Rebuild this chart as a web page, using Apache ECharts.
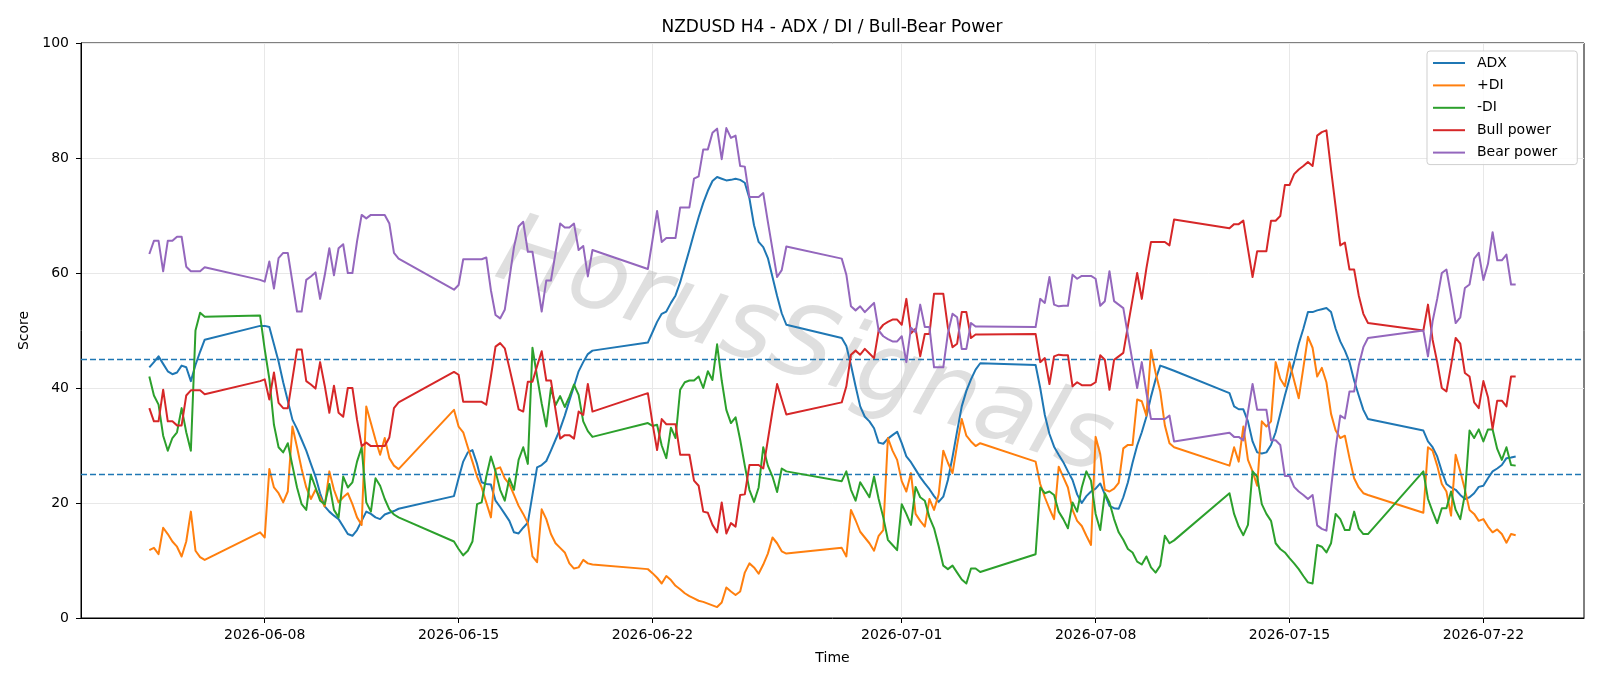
<!DOCTYPE html>
<html><head><meta charset="utf-8">
<script src="https://cdn.jsdelivr.net/npm/echarts@6/dist/echarts.min.js"></script>
<style>html,body{margin:0;padding:0;background:#fff}#c{width:1600px;height:686px}</style>
</head><body><div id="c"></div>
<script>
// H4 trading sessions: first bar time (UTC) and number of 4-hour bars
const sessionStarts = ['2026-06-03T20:00:00Z','2026-06-07T20:00:00Z','2026-06-14T20:00:00Z','2026-06-21T20:00:00Z','2026-06-28T20:00:00Z','2026-07-05T20:00:00Z','2026-07-12T20:00:00Z','2026-07-19T20:00:00Z'];
const sessionBars = [13,31,31,31,31,31,31,21];

const tickDates = ['2026-06-08','2026-06-15','2026-06-22','2026-07-01','2026-07-08','2026-07-15','2026-07-22'];
const refLevels = [25,45];

const adx = [
43.6,44.5,45.5,44.2,42.9,42.4,42.7,43.9,43.6,41.2,44.0,46.3,48.4,
50.8,50.8,50.6,47.6,44.6,41.0,37.8,34.5,32.9,31.0,29.1,26.8,24.6,21.7,19.4,18.5,17.8,17.2,15.9,14.6,14.3,15.3,16.9,18.5,18.1,17.5,17.2,18.0,18.3,18.6,19.0,
21.2,24.3,27.2,28.8,29.2,26.8,23.6,23.3,23.2,20.4,19.3,18.1,16.9,14.9,14.7,15.7,16.6,21.4,26.2,26.6,27.3,29.1,31.0,32.9,35.2,37.8,40.3,42.9,44.5,45.9,46.5,
47.9,49.7,51.5,52.9,53.3,54.8,56.1,58.4,61.2,64.0,66.9,69.7,72.2,74.3,76.0,76.7,76.4,76.1,76.2,76.4,76.2,75.7,73.0,68.3,65.4,64.5,62.6,59.3,56.0,53.0,51.0,
48.7,47.3,44.0,40.3,36.8,35.0,34.2,33.0,30.5,30.3,31.2,31.8,32.4,30.4,28.1,27.1,25.8,24.5,23.4,22.4,21.2,20.2,21.1,24.0,28.0,32.5,36.8,39.5,41.5,43.2,44.3,
44.0,40.0,35.3,32.0,29.8,28.4,27.1,25.5,24.0,21.5,20.0,21.2,22.0,22.5,23.4,21.5,19.5,19.1,19.0,21.0,23.6,27.0,30.0,32.3,35.0,38.5,41.5,43.9,43.6,43.3,43.0,
39.1,36.8,36.3,36.3,34.2,30.7,28.8,28.6,28.8,30.1,32.3,35.5,38.7,41.6,44.5,47.7,50.3,53.2,53.2,53.5,53.7,53.9,53.2,50.3,48.1,46.5,44.5,41.3,38.7,36.2,34.6,
32.6,30.7,29.7,28.1,25.5,23.3,22.7,22.3,21.4,20.7,21.0,21.7,22.8,23.0,24.3,25.5,26.0,26.6,27.8,27.9,28.1
];
const plusDI = [
11.8,12.2,11.1,15.7,14.6,13.3,12.4,10.7,13.3,18.5,11.7,10.6,10.1,
14.9,14.0,25.9,22.7,21.7,20.1,22.0,33.3,29.7,25.9,22.7,20.7,22.3,21.0,19.4,25.5,22.3,20.1,21.0,21.7,19.8,17.5,16.2,36.8,33.9,31.0,28.4,31.3,27.8,26.5,25.9,
36.2,33.3,32.3,29.7,27.2,24.6,22.7,20.1,17.5,25.9,26.2,24.3,23.3,21.4,19.5,18.1,16.5,10.7,9.7,18.9,17.2,14.6,13.0,12.2,11.4,9.5,8.6,8.8,10.1,9.5,9.3,
8.5,7.8,7.0,6.0,7.3,6.6,5.6,5.0,4.3,3.8,3.4,3.0,2.8,2.5,2.2,1.9,2.7,5.3,4.6,4.0,4.6,7.9,9.5,8.8,7.7,9.3,11.2,14.0,13.0,11.6,11.2,
12.2,10.7,18.8,17.0,15.0,14.0,13.0,11.7,14.3,15.3,31.3,29.1,27.5,23.8,22.0,25.2,18.1,16.9,15.9,20.7,18.8,21.5,29.1,27.0,25.2,30.1,34.6,31.7,30.7,29.9,30.4,
27.2,23.3,21.0,19.0,17.2,26.3,24.5,22.7,18.8,16.9,16.0,14.3,12.7,31.5,28.5,22.3,22.0,22.5,23.5,29.5,30.1,30.1,38.0,37.7,35.2,46.6,42.6,39.4,33.5,30.4,29.7,
26.5,29.7,27.2,33.3,27.5,25.5,23.0,34.2,33.3,34.2,44.5,41.6,40.3,44.5,41.3,38.2,43.5,48.9,47.0,42.0,43.5,41.0,35.5,32.6,31.3,31.7,27.8,24.3,22.7,21.7,21.4,
18.3,29.7,29.1,26.5,23.3,22.0,17.8,28.4,25.5,22.3,18.8,18.1,16.9,17.2,15.9,14.9,15.4,14.6,13.1,14.6,14.4
];
const minusDI = [
42.0,38.7,37.1,31.7,29.1,31.3,32.3,36.5,32.3,29.1,50.0,53.1,52.4,
52.6,46.7,41.6,33.6,29.7,28.8,30.4,26.5,22.7,19.8,18.8,24.9,22.7,20.4,19.8,23.3,18.8,17.5,24.6,22.7,23.6,27.2,29.7,20.1,18.5,24.3,23.0,20.7,18.9,18.0,17.5,
13.3,12.0,10.9,11.7,13.3,19.8,20.1,24.6,28.1,25.5,22.3,20.4,24.3,22.3,27.5,29.7,26.8,47.0,42.0,37.3,33.3,40.0,37.0,38.6,36.7,38.5,40.6,38.8,34.2,32.5,31.5,
33.9,33.4,33.6,30.0,27.8,33.1,31.3,39.7,41.0,41.3,41.3,42.0,40.0,42.9,41.4,47.6,41.3,36.2,33.9,34.9,31.0,26.5,22.3,20.2,22.7,29.7,26.5,24.6,21.9,26.0,25.5,
23.8,25.5,22.3,20.4,23.6,22.3,21.0,24.6,20.7,17.5,13.6,12.7,11.8,19.8,18.1,16.2,22.8,21.0,20.4,17.5,15.6,12.5,9.1,8.5,9.1,7.9,6.7,6.0,8.6,8.6,8.0,
11.1,22.7,21.7,22.0,21.4,18.5,17.2,15.6,20.1,18.5,22.7,25.5,23.9,18.1,15.3,21.7,20.1,17.2,14.9,13.6,12.0,11.4,9.8,9.3,10.7,8.8,7.9,9.1,14.3,13.0,13.5,
21.7,18.1,15.9,14.4,16.2,25.5,24.6,19.8,18.1,16.9,13.0,12.0,11.4,10.4,9.5,8.5,7.3,6.2,6.0,12.7,12.4,11.4,13.0,18.1,17.2,15.3,15.3,18.5,15.6,14.6,14.6,
25.5,20.7,18.5,16.5,19.1,19.1,22.0,18.8,17.2,21.5,32.6,31.3,32.8,30.7,32.8,32.8,29.4,27.5,29.7,26.6,26.5
];
const bullPower = [
36.5,34.2,34.2,39.7,34.2,34.2,33.5,33.5,38.7,39.6,39.6,39.6,38.9,
41.2,41.5,38.0,42.7,37.4,36.5,36.5,41.6,46.7,46.7,41.2,40.6,39.9,44.5,40.4,35.7,40.4,35.7,35.0,40.0,40.0,34.5,29.9,30.5,29.9,29.9,29.9,29.9,31.4,36.5,37.5,
42.8,42.3,37.6,37.6,37.6,37.6,37.6,37.1,42.0,47.2,47.8,46.9,43.5,40.0,36.3,35.9,41.1,41.1,43.8,46.4,41.3,41.3,36.2,31.2,31.8,31.8,31.2,35.9,35.3,40.7,35.9,
39.1,33.9,29.2,34.6,33.7,33.7,33.7,28.4,28.4,28.4,23.9,23.0,18.5,18.3,16.2,14.9,20.1,14.7,16.5,15.9,21.4,21.5,26.6,26.6,26.6,26.0,31.0,36.0,40.7,38.0,35.4,
37.5,40.3,45.8,46.5,45.8,46.8,46.0,45.2,50.0,51.0,51.5,51.9,51.9,51.0,55.5,49.5,50.3,45.5,49.4,49.4,56.4,56.4,56.4,50.5,47.1,47.7,53.2,53.2,48.7,49.3,49.3,
49.4,44.5,45.2,40.7,45.5,45.8,45.7,45.7,40.3,41.0,40.5,40.5,40.5,41.0,45.7,44.9,39.7,44.9,45.5,46.1,50.8,55.4,60.0,55.5,60.8,65.4,65.4,65.4,65.4,64.8,69.3,
67.8,68.5,68.5,69.1,64.2,59.3,63.8,63.8,63.8,69.1,69.1,69.9,75.3,75.3,77.2,78.0,78.6,79.3,78.6,83.9,84.5,84.8,78.0,71.5,64.8,65.3,60.6,60.6,56.1,52.9,51.3,
50.0,54.5,48.4,44.5,40.0,39.4,43.9,48.7,47.7,42.6,42.0,37.5,36.5,41.2,38.4,32.9,37.8,37.8,36.8,42.0,42.0
];
const bearPower = [
63.3,65.6,65.6,60.3,65.6,65.6,66.3,66.3,61.1,60.3,60.3,60.3,61.0,
58.8,58.5,62.0,57.3,62.6,63.5,63.5,58.4,53.3,53.3,58.8,59.4,60.1,55.5,59.6,64.3,59.6,64.3,65.0,60.0,60.0,65.5,70.1,69.5,70.1,70.1,70.1,70.1,68.6,63.5,62.5,
57.1,57.9,62.4,62.4,62.4,62.4,62.4,62.7,57.0,52.7,52.1,53.6,59.0,64.5,68.1,68.9,63.7,63.7,58.5,53.3,58.7,58.7,63.5,68.6,67.9,67.9,68.6,64.0,64.7,59.4,64.0,
60.7,65.7,70.8,65.4,66.1,66.1,66.1,71.4,71.4,71.4,76.4,76.8,81.5,81.5,84.4,85.1,79.8,85.2,83.5,83.9,78.6,78.5,73.2,73.2,73.2,73.9,68.9,64.1,59.3,60.5,64.6,
62.5,59.7,54.2,53.5,54.2,53.2,54.0,54.8,50.0,49.0,48.5,48.1,48.1,49.0,44.5,50.5,49.7,54.5,50.6,50.6,43.6,43.6,43.6,49.5,52.9,52.3,46.8,46.8,51.3,50.7,50.7,
50.6,55.5,54.8,59.3,54.5,54.2,54.3,54.3,59.7,59.0,59.5,59.5,59.5,59.0,54.3,55.1,60.3,55.1,54.5,53.9,49.2,44.6,40.0,44.5,39.2,34.6,34.6,34.6,34.6,35.2,30.7,
32.2,31.5,31.5,30.9,35.8,40.7,36.2,36.2,36.2,30.9,30.9,30.1,24.7,24.7,22.8,22.0,21.4,20.7,21.4,16.1,15.5,15.2,22.5,29.5,35.2,34.7,39.4,39.4,43.9,47.1,48.7,
50.0,45.5,51.6,55.5,60.0,60.6,56.1,51.3,52.3,57.4,58.0,62.5,63.5,58.8,61.6,67.1,62.2,62.2,63.2,58.0,58.0
];

const seriesNames = ['ADX','+DI','-DI','Bull power','Bear power'];
const seriesColors = ['#1f77b4','#ff7f0e','#2ca02c','#d62728','#9467bd'];
const seriesValues = [adx, plusDI, minusDI, bullPower, bearPower];

// bar timestamps
const H4 = 4*3600*1000;
const times = [];
sessionStarts.forEach((s, k) => {
  const t0 = Date.parse(s);
  for (let i = 0; i < sessionBars[k]; i++) times.push(t0 + i*H4);
});
const tMin = times[0], tMax = times[times.length-1];
const pad = (tMax - tMin) * 0.05;
const tickVals = tickDates.map(d => Date.parse(d + 'T00:00:00Z'));
const fmt = v => { const d = new Date(v); const p = n => String(n).padStart(2,'0'); return d.getUTCFullYear() + '-' + p(d.getUTCMonth()+1) + '-' + p(d.getUTCDate()); };

const FONT = 'DejaVu Sans';
const chart = echarts.init(document.getElementById('c'), null, {renderer:'canvas'});
const series = seriesValues.map((vals, k) => ({
  name: seriesNames[k], type: 'line', showSymbol: false, symbol: 'none',
  data: vals.map((v, i) => [times[i], v]),
  lineStyle: {width: 2, color: seriesColors[k], join: 'round'},
  itemStyle: {color: seriesColors[k]},
  z: 3 + k,
  markLine: k === 0 ? {
    silent: true, symbol: 'none', label: {show: false},
    lineStyle: {type: [6, 3], color: '#1f77b4', width: 1.3},
    data: refLevels.map(v => ({yAxis: v}))
  } : undefined
}));

chart.setOption({
  animation: false,
  backgroundColor: '#fff',
  textStyle: {fontFamily: FONT},
  grid: {left: 81, right: 16, top: 43, bottom: 68, show: true, borderColor: '#000', borderWidth: 1, containLabel: false},
  xAxis: {
    type: 'value', min: tMin - pad, max: tMax + pad,
    name: 'Time', nameLocation: 'middle', nameGap: 33,
    nameTextStyle: {fontSize: 14, color: '#000', fontFamily: FONT},
    axisLine: {show: true, lineStyle: {color: '#000', width: 1}},
    axisTick: {show: true, customValues: tickVals, length: 5, lineStyle: {color: '#000'}},
    axisLabel: {customValues: tickVals, formatter: v => fmt(v), fontSize: 14, color: '#000', margin: 10, fontFamily: FONT},
    splitLine: {show: true, lineStyle: {color: '#e8e8e8', width: 1}}
  },
  yAxis: {
    type: 'value', min: 0, max: 100, interval: 20,
    name: 'Score', nameLocation: 'middle', nameGap: 50,
    nameTextStyle: {fontSize: 14, color: '#000', fontFamily: FONT},
    axisLine: {show: true, lineStyle: {color: '#000', width: 1}},
    axisTick: {show: true, length: 5, lineStyle: {color: '#000'}},
    axisLabel: {fontSize: 14, color: '#000', margin: 12, fontFamily: FONT},
    splitLine: {show: true, lineStyle: {color: '#e8e8e8', width: 1}}
  },
  legend: {
    orient: 'vertical', left: 1427, top: 51,
    data: seriesNames, icon: 'rect', itemWidth: 32, itemHeight: 2, itemGap: 8.4,
    padding: [5, 20, 5, 6],
    borderColor: '#cfcfcf', borderWidth: 1, borderRadius: 3, backgroundColor: 'rgba(255,255,255,0.85)',
    textStyle: {fontSize: 14, color: '#000', fontFamily: FONT, padding: [0, 0, 0, 7]}
  },
  graphic: [
    {type: 'text', x: 832, y: 28, z: 10, style: {text: 'NZDUSD H4 - ADX / DI / Bull-Bear Power', fontSize: 17, fontFamily: FONT, fill: '#000', align: 'center', verticalAlign: 'middle'}},
    {type: 'text', x: 804, y: 350, rotation: -18 * Math.PI / 180, z: 1,
     style: {text: 'HorusSignals', fontSize: 98, fontStyle: 'italic', fontFamily: FONT, fill: 'rgba(150,150,150,0.3)', align: 'center', verticalAlign: 'middle'}}
  ],
  series: series
});
</script>
</body></html>
